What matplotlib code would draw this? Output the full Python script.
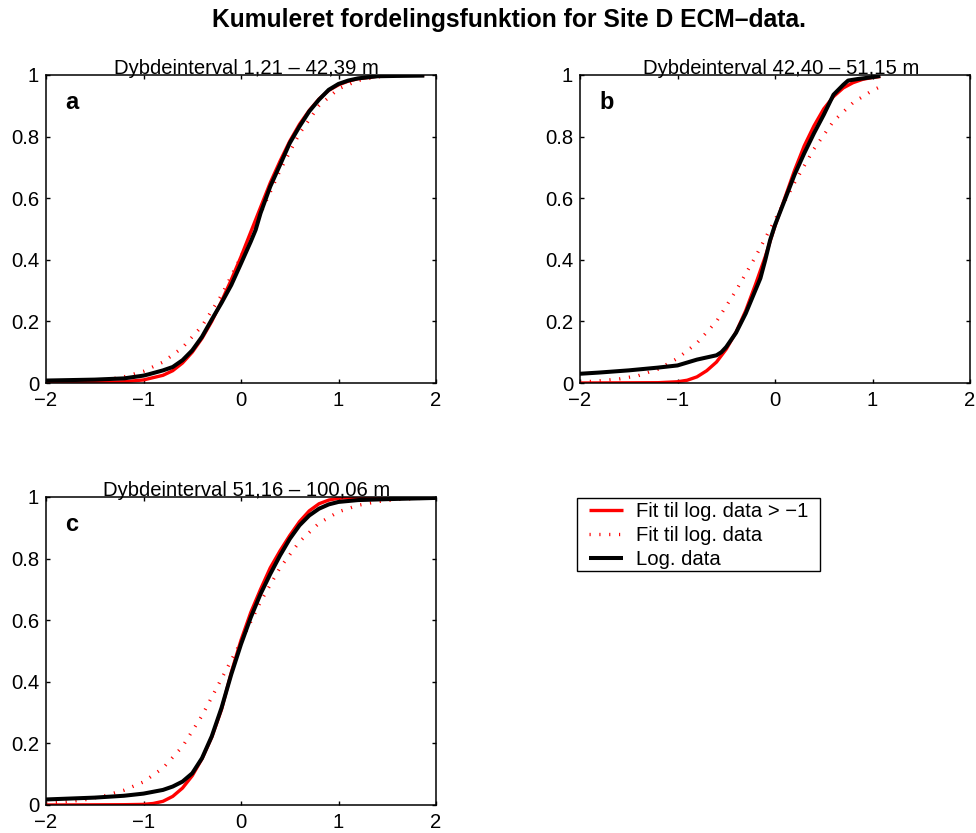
import matplotlib
matplotlib.use("Agg")
import matplotlib.pyplot as plt
from matplotlib.lines import Line2D
from matplotlib.patches import Rectangle

plt.rcParams['font.family'] = ['Liberation Sans', 'DejaVu Sans']

# ---- data: cumulative distributions read per depth interval ----
panel_titles = ['Dybdeinterval 1,21 \u2013 42,39 m',
                'Dybdeinterval 42,40 \u2013 51,15 m',
                'Dybdeinterval 51,16 \u2013 100,06 m']
panel_letters = ['a', 'b', 'c']

# panel a
a_data_x = [-2, -1.5, -1.2, -1.0, -0.95, -0.8, -0.7, -0.6, -0.5, -0.4, -0.3, -0.2, -0.1, 0, 0.1, 0.15,
            0.2, 0.3, 0.4, 0.5, 0.6, 0.7, 0.8, 0.9, 1.0, 1.1, 1.2, 1.4, 1.6, 1.88]
a_data_y = [0.008, 0.011, 0.015, 0.024, 0.028, 0.041, 0.052, 0.074, 0.106, 0.150, 0.206, 0.260, 0.318,
            0.388, 0.459, 0.497, 0.551, 0.638, 0.708, 0.779, 0.833, 0.882, 0.920, 0.952, 0.971, 0.982,
            0.989, 0.996, 0.997, 0.998]
a_fit_x = [-2, -1.5, -1.2, -1.0, -0.8, -0.7, -0.6, -0.5, -0.4, -0.3, -0.2, -0.1, 0, 0.1, 0.2, 0.3, 0.4,
           0.5, 0.6, 0.7, 0.8, 0.9, 1.0, 1.1, 1.2, 1.4, 1.6, 1.88]
a_fit_y = [0.0, 0.001, 0.004, 0.010, 0.025, 0.040, 0.065, 0.100, 0.145, 0.200, 0.265, 0.335, 0.410,
           0.490, 0.570, 0.650, 0.720, 0.785, 0.840, 0.885, 0.922, 0.950, 0.968, 0.980, 0.988, 0.996,
           0.999, 1.0]
a_all_x = [-2, -1.6, -1.4, -1.2, -1.0, -0.8, -0.6, -0.4, -0.2, 0, 0.2, 0.4, 0.6, 0.8, 1.0, 1.2, 1.4,
           1.6, 1.88]
a_all_y = [0.001, 0.005, 0.010, 0.020, 0.038, 0.068, 0.115, 0.185, 0.285, 0.410, 0.550, 0.690, 0.810,
           0.900, 0.955, 0.982, 0.994, 0.998, 1.0]

# panel b
b_data_x = [-2, -1.8, -1.5, -1.2, -1.0, -0.8, -0.6, -0.55, -0.5, -0.4, -0.3, -0.2, -0.15, -0.1, -0.05,
            0, 0.1, 0.2, 0.3, 0.4, 0.5, 0.6, 0.7, 0.75, 0.85, 1.0, 1.08]
b_data_y = [0.030, 0.034, 0.041, 0.050, 0.057, 0.076, 0.090, 0.100, 0.117, 0.163, 0.226, 0.302, 0.340,
            0.399, 0.464, 0.513, 0.594, 0.676, 0.746, 0.811, 0.871, 0.936, 0.968, 0.982, 0.987, 0.993,
            0.997]
b_fit_x = [-2, -1.2, -1.0, -0.9, -0.8, -0.7, -0.6, -0.5, -0.4, -0.3, -0.2, -0.1, 0, 0.1, 0.2, 0.3, 0.4,
           0.5, 0.6, 0.7, 0.8, 0.9, 1.0, 1.08]
b_fit_y = [0.0, 0.001, 0.004, 0.009, 0.020, 0.040, 0.068, 0.110, 0.165, 0.235, 0.320, 0.410, 0.510,
           0.600, 0.690, 0.770, 0.835, 0.890, 0.930, 0.958, 0.975, 0.986, 0.992, 0.995]
b_all_x = [-2, -1.8, -1.6, -1.4, -1.2, -1.0, -0.8, -0.6, -0.4, -0.2, 0, 0.2, 0.4, 0.6, 0.8, 1.0, 1.08]
b_all_y = [0.003, 0.007, 0.013, 0.024, 0.045, 0.080, 0.130, 0.200, 0.300, 0.410, 0.530, 0.650, 0.760,
           0.850, 0.910, 0.950, 0.962]

# panel c
c_data_x = [-2, -1.5, -1.2, -1.0, -0.8, -0.7, -0.6, -0.5, -0.4, -0.3, -0.2, -0.1, 0, 0.1, 0.2, 0.3, 0.4,
            0.5, 0.6, 0.7, 0.8, 0.9, 1.0, 1.2, 1.5, 2.0]
c_data_y = [0.018, 0.024, 0.030, 0.037, 0.049, 0.060, 0.076, 0.103, 0.152, 0.223, 0.315, 0.424, 0.522,
            0.609, 0.685, 0.750, 0.810, 0.864, 0.908, 0.940, 0.962, 0.976, 0.984, 0.990, 0.993, 0.997]
c_fit_x = [-2, -1.2, -1.0, -0.9, -0.8, -0.7, -0.6, -0.5, -0.4, -0.3, -0.2, -0.1, 0, 0.1, 0.2, 0.3, 0.4,
           0.5, 0.6, 0.7, 0.8, 0.9, 1.0, 1.2, 2.0]
c_fit_y = [0.0, 0.001, 0.002, 0.005, 0.012, 0.028, 0.055, 0.095, 0.150, 0.220, 0.310, 0.430, 0.535,
           0.625, 0.700, 0.770, 0.825, 0.875, 0.920, 0.955, 0.978, 0.990, 0.996, 0.999, 1.0]
c_all_x = [-2, -1.8, -1.6, -1.4, -1.2, -1.0, -0.8, -0.6, -0.4, -0.2, 0, 0.2, 0.4, 0.6, 0.8, 1.0, 1.2,
           1.4, 1.6, 2.0]
c_all_y = [0.005, 0.010, 0.017, 0.030, 0.048, 0.075, 0.120, 0.190, 0.290, 0.410, 0.530, 0.660, 0.770,
           0.855, 0.915, 0.952, 0.973, 0.985, 0.992, 0.998]

panels = [
    (a_fit_x, a_fit_y, a_all_x, a_all_y, a_data_x, a_data_y),
    (b_fit_x, b_fit_y, b_all_x, b_all_y, b_data_x, b_data_y),
    (c_fit_x, c_fit_y, c_all_x, c_all_y, c_data_x, c_data_y),
]

legend_labels = ['Fit til log. data > \u22121', 'Fit til log. data', 'Log. data']

# ---- figure ----
W, H = 976, 833
fig = plt.figure(figsize=(W / 100, H / 100), dpi=100)

rects = [(46, 75), (580, 75), (46, 497)]   # left, top in pixels
aw, ah = 390, 308
fs = 14.6

fit_style = dict(color='red', lw=2.4, solid_capstyle='butt')
all_style = dict(color='red', lw=2.4, dashes=(0.35, 2.6), dash_capstyle='butt')
data_style = dict(color='black', lw=2.9, solid_capstyle='butt')

for (left, top), title, letter, (fx, fy, ax_, ay, dx, dy) in zip(rects, panel_titles, panel_letters, panels):
    ax = fig.add_axes([left / W, 1 - (top + ah) / H, aw / W, ah / H])
    ax.plot(ax_, ay, **all_style)
    ax.plot(fx, fy, **fit_style)
    ax.plot(dx, dy, **data_style)

    ax.set_xlim(-2, 2)
    ax.set_ylim(0, 1)
    ax.set_xticks([-2, -1, 0, 1, 2])
    ax.set_xticklabels(['\u22122', '\u22121', '0', '1', '2'])
    ax.set_yticks([0, 0.2, 0.4, 0.6, 0.8, 1])
    ax.set_yticklabels(['0', '0.2', '0.4', '0.6', '0.8', '1'])
    ax.tick_params(direction='in', length=3, width=1, top=True, right=True,
                   labelsize=fs, pad=5)
    ax.tick_params(axis='x', pad=6)
    for s in ax.spines.values():
        s.set_linewidth(1.1)

    ax.set_title(title, fontsize=fs, pad=1, x=0.515)
    ax.text(-1.8, 0.91, letter, fontsize=17, fontweight='bold', va='center', ha='left')

fig.text(509 / W, 1 - 20 / H, 'Kumuleret fordelingsfunktion for Site D ECM\u2013data.',
         fontsize=17.7, fontweight='bold', ha='center', va='center')

# legend in the empty fourth slot, with its own box
handles = [Line2D([], [], **fit_style),
           Line2D([], [], **all_style),
           Line2D([], [], **data_style)]
fig.legend(handles, legend_labels, loc='upper left', bbox_to_anchor=(589 / W, 1 - 502 / H),
           borderaxespad=0, borderpad=0, fontsize=fs, frameon=False,
           handlelength=1.68, handletextpad=0.64, labelspacing=0.24)
fig.patches.append(Rectangle((577 / W, 1 - 571 / H), 243 / W, 73 / H, transform=fig.transFigure,
                             facecolor='white', edgecolor='black', lw=1.0, zorder=-1))

fig.savefig('out.png', dpi=100)
